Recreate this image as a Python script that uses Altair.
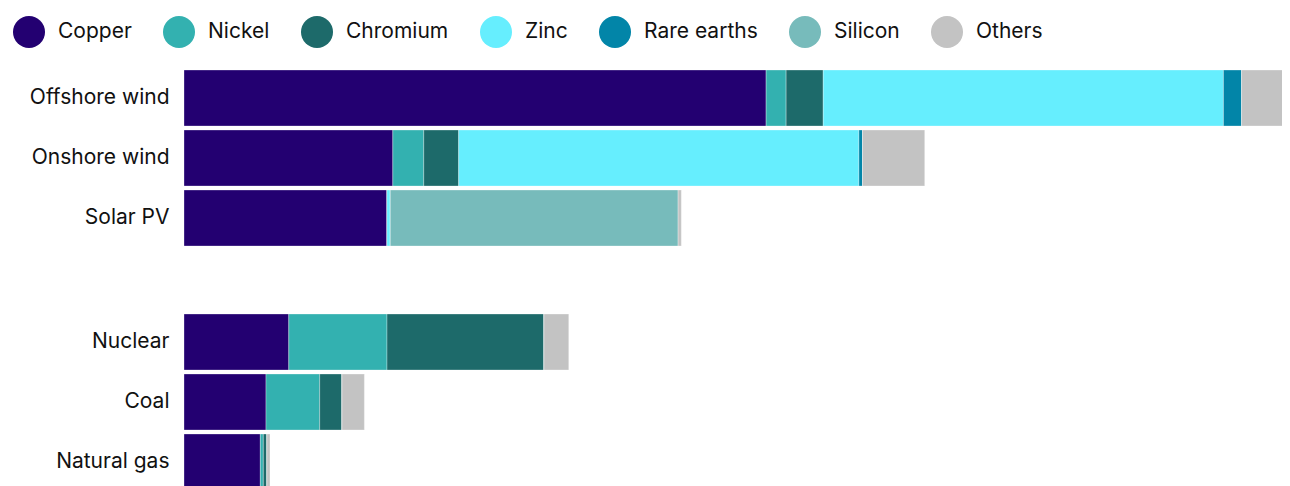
import altair as alt
import pandas as pd

categories = ["Offshore wind", "Onshore wind", "Solar PV", "Nuclear", "Coal", "Natural gas"]
groups = ["Renewables", "Renewables", "Renewables", "Conventional", "Conventional", "Conventional"]
minerals = ["Copper", "Nickel", "Chromium", "Zinc", "Rare earths", "Silicon", "Others"]
colors = ["#230071", "#33B1B0", "#1D6A6A", "#66EEFE", "#0285A8", "#77BBBB", "#C3C3C3"]

# kg per MW
copper = [8000, 2870, 2790, 1440, 1127, 1049]
nickel = [275, 425, 0, 1350, 738, 41]
chromium = [510, 480, 0, 2158, 307, 51]
zinc = [5500, 5500, 45, 0, 0, 0]
rare_earths = [250, 50, 0, 0, 0, 0]
silicon = [0, 0, 3955, 0, 0, 0]
others = [675, 855, 45, 340, 307, 41]

# visible part of the value axis (the picture is cropped at the right edge)
x_visible_max = 15090

series = [copper, nickel, chromium, zinc, rare_earths, silicon, others]
rows = []
for mi, (m, vals) in enumerate(zip(minerals, series)):
    for c, g, v in zip(categories, groups, vals):
        rows.append({"tech": c, "group": g, "mineral": m, "value": v, "order": mi})
df = pd.DataFrame(rows)

font = "Inter"

axis = alt.Axis(domain=False, ticks=False, labelPadding=15, labelFontSize=21,
                labelFont=font, labelColor="#111111", orient="left")

base = alt.Chart(df).mark_bar(stroke="white", strokeWidth=0.6, strokeOpacity=0.5, clip=True).encode(
    x=alt.X("value:Q", stack="zero", axis=None,
            scale=alt.Scale(domain=[0, x_visible_max], nice=False, zero=True)),
    color=alt.Color("mineral:N", sort=minerals,
                    scale=alt.Scale(domain=minerals, range=colors),
                    legend=alt.Legend(orient="none", legendX=-171, legendY=-52,
                                      direction="horizontal", columns=7, title=None,
                                      symbolType="circle", symbolSize=1024, symbolStrokeWidth=0,
                                      symbolOpacity=1,
                                      labelFont=font, labelFontSize=21, labelColor="#111111",
                                      labelOffset=13, columnPadding=31)),
    order=alt.Order("order:Q"),
)

top = base.transform_filter(alt.datum.group == "Renewables").encode(
    y=alt.Y("tech:N", sort=categories[:3], title=None, axis=axis,
            scale=alt.Scale(range=[0, 180], paddingInner=4/60, paddingOuter=2/60)),
)
bottom = base.transform_filter(alt.datum.group == "Conventional").encode(
    y=alt.Y("tech:N", sort=categories[3:], title=None, axis=axis,
            scale=alt.Scale(range=[244, 424], paddingInner=4/60, paddingOuter=2/60)),
)

chart = alt.layer(top, bottom).resolve_scale(y="independent").resolve_axis(y="independent").properties(
    width=1098, height=424,
    autosize=alt.AutoSizeParams(type="none"),
    padding={"left": 176, "top": 60, "right": 0, "bottom": 0},
).configure_view(stroke=None)

chart.save("out.html", embed_options={"renderer": "svg", "actions": False})
